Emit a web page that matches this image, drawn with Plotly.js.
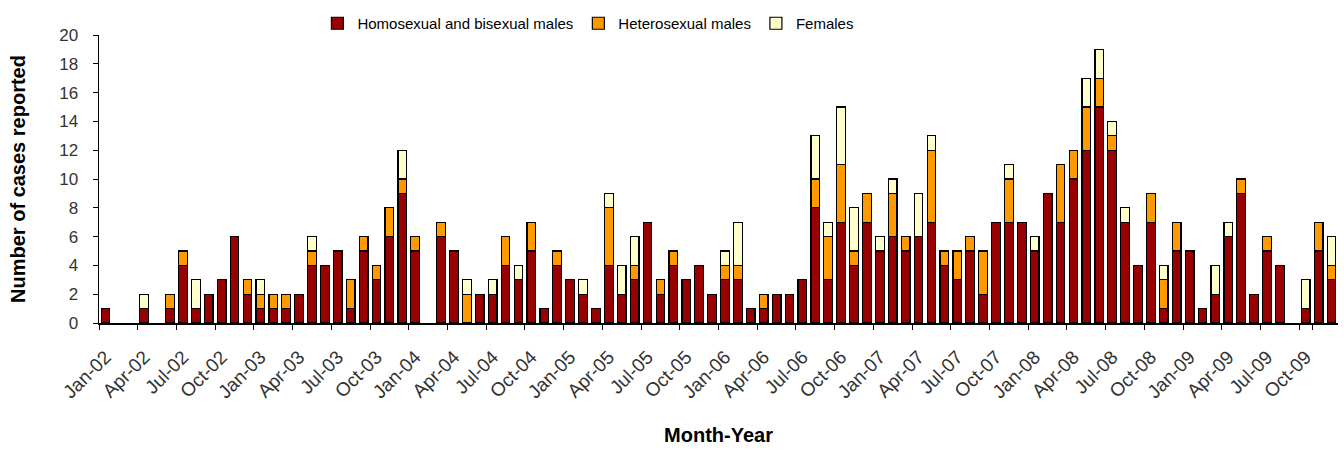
<!DOCTYPE html>
<html>
<head>
<meta charset="utf-8">
<script src="https://cdn.plot.ly/plotly-3.0.1.min.js"></script>
<style>html,body{margin:0;padding:0;background:#fff;}#chart{width:1344px;height:450px;}</style>
</head>
<body>
<div id="chart"></div>
<script>
const months = [
  "Jan-02","Feb-02","Mar-02","Apr-02","May-02","Jun-02","Jul-02","Aug-02","Sep-02","Oct-02","Nov-02","Dec-02",
  "Jan-03","Feb-03","Mar-03","Apr-03","May-03","Jun-03","Jul-03","Aug-03","Sep-03","Oct-03","Nov-03","Dec-03",
  "Jan-04","Feb-04","Mar-04","Apr-04","May-04","Jun-04","Jul-04","Aug-04","Sep-04","Oct-04","Nov-04","Dec-04",
  "Jan-05","Feb-05","Mar-05","Apr-05","May-05","Jun-05","Jul-05","Aug-05","Sep-05","Oct-05","Nov-05","Dec-05",
  "Jan-06","Feb-06","Mar-06","Apr-06","May-06","Jun-06","Jul-06","Aug-06","Sep-06","Oct-06","Nov-06","Dec-06",
  "Jan-07","Feb-07","Mar-07","Apr-07","May-07","Jun-07","Jul-07","Aug-07","Sep-07","Oct-07","Nov-07","Dec-07",
  "Jan-08","Feb-08","Mar-08","Apr-08","May-08","Jun-08","Jul-08","Aug-08","Sep-08","Oct-08","Nov-08","Dec-08",
  "Jan-09","Feb-09","Mar-09","Apr-09","May-09","Jun-09","Jul-09","Aug-09","Sep-09","Oct-09","Nov-09","Dec-09"
];
const homosexualMales = [
  1,0,0,1,0,1,4,1,2,3,6,2,
  1,1,1,2,4,4,5,1,5,3,6,9,
  5,0,6,5,0,2,2,4,3,5,1,4,
  3,2,1,4,2,3,7,2,4,3,4,2,
  3,3,1,1,2,2,3,8,3,7,4,7,
  5,6,5,6,7,4,3,5,2,7,7,7,
  5,9,7,10,12,15,12,7,4,7,1,5,
  5,1,2,6,9,2,5,4,0,1,5,3
];
const heterosexualMales = [
  0,0,0,0,0,1,1,0,0,0,0,1,
  1,1,1,0,1,0,0,2,1,1,2,1,
  1,0,1,0,2,0,0,2,0,2,0,1,
  0,0,0,4,0,1,0,1,1,0,0,0,
  1,1,0,1,0,0,0,2,3,4,1,2,
  0,3,1,0,5,1,2,1,3,0,3,0,
  0,0,4,2,3,2,1,0,0,2,2,2,
  0,0,0,0,1,0,1,0,0,0,2,1
];
const females = [
  0,0,0,1,0,0,0,2,0,0,0,0,
  1,0,0,0,1,0,0,0,0,0,0,2,
  0,0,0,0,1,0,1,0,1,0,0,0,
  0,1,0,1,2,2,0,0,0,0,0,0,
  1,3,0,0,0,0,0,3,1,4,3,0,
  1,1,0,3,1,0,0,0,0,0,1,0,
  1,0,0,0,2,2,1,1,0,0,1,0,
  0,0,2,1,0,0,0,0,0,2,0,2
];
const seriesNames = ["Homosexual and bisexual males","Heterosexual males","Females"];
const seriesColors = ["#990000","#FF9900","#FFFFCC"];
const tickLabels = months.filter((m, i) => i % 3 === 0);

const seriesValues = [homosexualMales, heterosexualMales, females];
const traces = seriesValues.map((vals, k) => ({
  type: "bar",
  name: seriesNames[k],
  x: months,
  y: vals.map(v => v === 0 ? null : v),
  marker: {color: seriesColors[k], line: {color: "#000000", width: 1.2}},
  hoverinfo: "x+y+name"
}));

const layout = {
  width: 1344, height: 450,
  margin: {l: 99, r: 6, t: 35, b: 127},
  paper_bgcolor: "#ffffff", plot_bgcolor: "#ffffff",
  barmode: "stack",
  bargap: 0.33,
  font: {family: "Liberation Sans, Arial, sans-serif", color: "#000"},
  showlegend: true,
  legend: {
    orientation: "h", x: 0.395, xanchor: "center", y: 1.04, yanchor: "middle",
    font: {size: 15, family: "Liberation Sans, Arial, sans-serif", color: "#000"},
    traceorder: "normal", itemwidth: 30, bgcolor: "rgba(0,0,0,0)"
  },
  xaxis: {
    type: "category",
    tickmode: "array", tickvals: tickLabels, ticktext: tickLabels,
    tickson: "boundaries",
    tickangle: -45,
    ticks: "outside", ticklen: 5, tickwidth: 1, tickcolor: "#000",
    ticklabelstandoff: 14,
    tickfont: {size: 19, color: "#333333"},
    showline: true, linecolor: "#000", linewidth: 1.5,
    showgrid: false, zeroline: false, automargin: false,
    title: {text: "Month-Year", font: {size: 20, color: "#000", family: "Liberation Sans, Arial, sans-serif", weight: "bold"}, standoff: 26}
  },
  yaxis: {
    range: [0, 20], dtick: 2, tick0: 0,
    ticks: "outside", ticklen: 5, tickwidth: 1, tickcolor: "#000",
    ticklabelstandoff: 11,
    tickfont: {size: 17, color: "#333333"},
    showline: true, linecolor: "#000", linewidth: 1.5,
    showgrid: false, zeroline: false, automargin: false,
    title: {text: "Number of cases reported", font: {size: 20, color: "#000", family: "Liberation Sans, Arial, sans-serif", weight: "bold"}, standoff: 28}
  }
};

Plotly.newPlot("chart", traces, layout, {displayModeBar: false, staticPlot: true});
</script>
</body>
</html>
